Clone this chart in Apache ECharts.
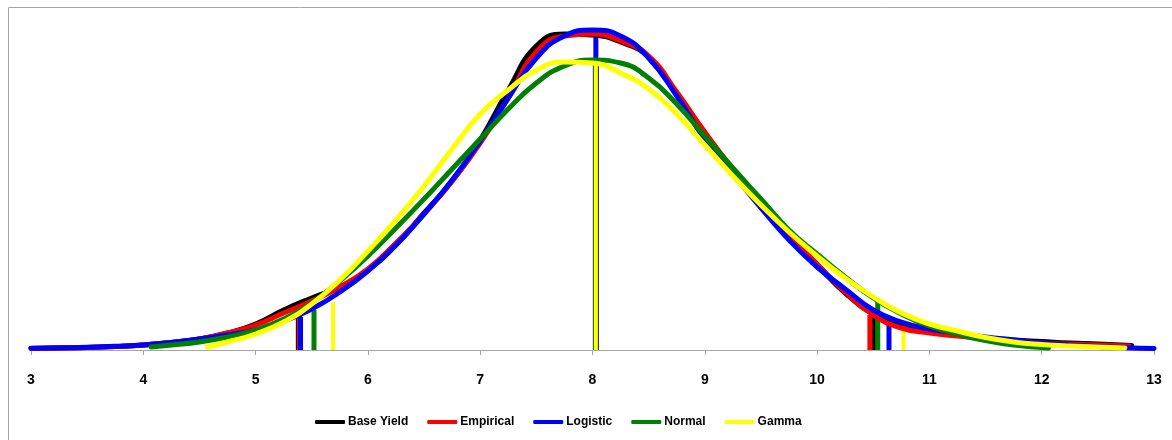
<!DOCTYPE html>
<html>
<head>
<meta charset="utf-8">
<script src="https://cdn.jsdelivr.net/npm/echarts@6/dist/echarts.min.js"></script>
<style>
html,body{margin:0;padding:0;background:#fff;}
#chart{width:1172px;height:440px;}
</style>
</head>
<body>
<div id="chart"></div>
<script>
// ---- data (heights in thousandths, y axis hidden) ----
const seriesNames = ['Base Yield', 'Empirical', 'Logistic', 'Normal', 'Gamma'];
const xTicks = [3, 4, 5, 6, 7, 8, 9, 10, 11, 12, 13];

const baseX = [3.0, 3.25, 3.5, 3.75, 4.0, 4.25, 4.5, 4.75, 5.0, 5.25, 5.5, 5.75, 6.0, 6.25, 6.5, 6.75, 7.0, 7.25, 7.5, 7.75, 8.0, 8.25, 8.5, 8.75, 9.0, 9.25, 9.5, 9.75, 10.0, 10.25, 10.5, 10.75, 11.0, 11.25, 11.5, 11.75, 12.0, 12.25, 12.5, 12.8];
const baseY = [1.5, 2, 2.5, 3.5, 5, 7.5, 11, 17, 26, 40, 52, 63, 80, 105, 137, 169, 210, 260, 304, 316, 315, 308, 293, 257, 217, 180, 146, 113, 85, 57, 36, 24, 18, 15, 12, 10, 8.5, 7, 6, 4.5];

const empX = [3.0, 3.25, 3.5, 3.75, 4.0, 4.25, 4.5, 4.75, 5.0, 5.25, 5.5, 5.75, 6.0, 6.25, 6.5, 6.75, 7.0, 7.25, 7.5, 7.75, 8.0, 8.25, 8.5, 8.75, 9.0, 9.25, 9.5, 9.75, 10.0, 10.25, 10.5, 10.75, 11.0, 11.25, 11.5, 11.75, 12.0, 12.25, 12.5, 12.78];
const empY = [1.5, 2, 2.5, 3.5, 5, 7.5, 11, 17, 25, 37, 49, 63, 81, 107, 136, 169, 207, 252, 298, 314, 316, 309, 294, 258, 218, 181, 147, 114, 86, 58, 35, 22, 17, 14, 11, 9, 7, 6, 5, 4];

const logX = [3.0, 3.25, 3.5, 3.75, 4.0, 4.25, 4.5, 4.75, 5.0, 5.25, 5.5, 5.75, 6.0, 6.25, 6.5, 6.75, 7.0, 7.25, 7.5, 7.75, 8.0, 8.25, 8.5, 8.75, 9.0, 9.25, 9.5, 9.75, 10.0, 10.25, 10.5, 10.75, 11.0, 11.25, 11.5, 11.75, 12.0, 12.25, 12.5, 12.75, 13.0];
const logY = [1.7, 2.2, 2.7, 3.7, 5, 7.5, 11, 15, 20, 29, 41, 58, 79, 105, 136, 170, 209, 252, 292, 314, 320, 314, 292, 254, 211, 176, 142, 110, 83, 61, 40, 28, 21, 17, 13, 10, 7, 5, 3.5, 2.3, 1.5];

const normX = [4.07, 4.25, 4.5, 4.75, 5.0, 5.25, 5.5, 5.75, 6.0, 6.25, 6.5, 6.75, 7.0, 7.25, 7.5, 7.75, 8.0, 8.25, 8.5, 8.75, 9.0, 9.25, 9.5, 9.75, 10.0, 10.25, 10.5, 10.75, 11.0, 11.25, 11.5, 11.75, 12.06];
const normY = [3, 5, 8, 13, 20, 31, 47, 69, 94, 122, 151, 181, 211, 241, 267, 284, 290, 287, 272, 246, 214, 182, 151, 120, 96, 73, 52, 36, 24, 16, 9.5, 5, 2];

const gamX = [4.57, 4.75, 5.0, 5.25, 5.5, 5.75, 6.0, 6.25, 6.5, 6.75, 7.0, 7.25, 7.5, 7.75, 8.0, 8.25, 8.5, 8.75, 9.0, 9.25, 9.5, 9.75, 10.0, 10.25, 10.5, 10.75, 11.0, 11.25, 11.5, 11.75, 12.0, 12.25, 12.74];
const gamY = [3, 8, 16, 28, 46, 70, 99, 130, 164, 201, 236, 260, 280, 288, 287, 277, 261, 236, 205, 174, 145, 118, 94, 72, 53, 37, 26, 19, 12.5, 8, 5.5, 4, 2];

// vertical marker lines (lower quantile, mean, upper quantile) and their heights
const baseVX = [5.385, 8.03, 10.50], baseVY = [35, 287, 33];
const empVX  = [5.39, 8.03, 10.47],  empVY  = [35, 287, 35];
const logVX  = [5.40, 8.03, 10.64],  logVY  = [33, 320, 33];
const normVX = [5.52, 8.03, 10.54],  normVY = [40, 290, 48];
const gamVX  = [5.69, 8.03, 10.77],  gamVY  = [48, 287, 28];

// ---- chart ----
const colors = ['#000000', '#ff0000', '#0000ff', '#008000', '#ffff00'];
const curveX = [baseX, empX, logX, normX, gamX];
const curveY = [baseY, empY, logY, normY, gamY];
const vX = [baseVX, empVX, logVX, normVX, gamVX];
const vY = [baseVY, empVY, logVY, normVY, gamVY];
const vWidth = [6, 5, 5, 5, 4];
const FONT = "'Liberation Sans', Arial, sans-serif";

const zip = (a, b) => a.map((v, i) => [v, b[i] / 1000]);

const series = [];
for (let k = 0; k < 5; k++) {
  series.push({
    type: 'custom',
    z: 1,
    silent: true,
    clip: false,
    data: zip(vX[k], vY[k]),
    renderItem: (params, api) => {
      const p0 = api.coord([api.value(0), 0]);
      const p1 = api.coord([api.value(0), api.value(1)]);
      return {
        type: 'line',
        shape: { x1: p0[0], y1: p0[1], x2: p1[0], y2: p1[1] },
        style: { stroke: colors[k], lineWidth: vWidth[k], lineCap: 'butt' }
      };
    }
  });
}
for (let k = 0; k < 5; k++) {
  series.push({
    name: seriesNames[k],
    type: 'line',
    z: 2 + k,
    data: zip(curveX[k], curveY[k]),
    smooth: 0.5,
    showSymbol: false,
    symbol: 'none',
    clip: false,
    lineStyle: { color: colors[k], width: 5, cap: 'round', join: 'round' },
    itemStyle: { color: colors[k] },
    emphasis: { disabled: true }
  });
}

const chart = echarts.init(document.getElementById('chart'), null, { renderer: 'canvas' });
chart.setOption({
  animation: false,
  backgroundColor: '#ffffff',
  color: colors,
  graphic: [{
    type: 'rect',
    shape: { x: 8.5, y: 7.5, width: 1300, height: 600 },
    style: { fill: 'none', stroke: '#a6a6a6', lineWidth: 1 },
    silent: true,
    z: -1
  }],
  grid: { left: 31, right: 18, top: 10, bottom: 90, containLabel: false },
  xAxis: {
    type: 'value',
    min: xTicks[0],
    max: xTicks[xTicks.length - 1],
    interval: 1,
    axisLine: { show: true, lineStyle: { color: '#a6a6a6', width: 1 } },
    axisTick: { show: true, length: 5, inside: false, lineStyle: { color: '#a6a6a6' } },
    axisLabel: {
      margin: 23,
      color: '#000',
      fontFamily: FONT,
      fontWeight: 'bold',
      fontSize: 14,
      formatter: v => String(v)
    },
    splitLine: { show: false }
  },
  yAxis: {
    type: 'value',
    min: 0,
    max: 0.34,
    show: false,
    splitLine: { show: false }
  },
  legend: {
    data: seriesNames,
    top: 411,
    left: 310,
    icon: 'roundRect',
    itemWidth: 30,
    itemHeight: 4,
    itemGap: 19,
    textStyle: { color: '#000', fontFamily: FONT, fontWeight: 'bold', fontSize: 12, padding: [0, 0, 0, -2] },
    selectedMode: false
  },
  series: series
});
</script>
</body>
</html>
